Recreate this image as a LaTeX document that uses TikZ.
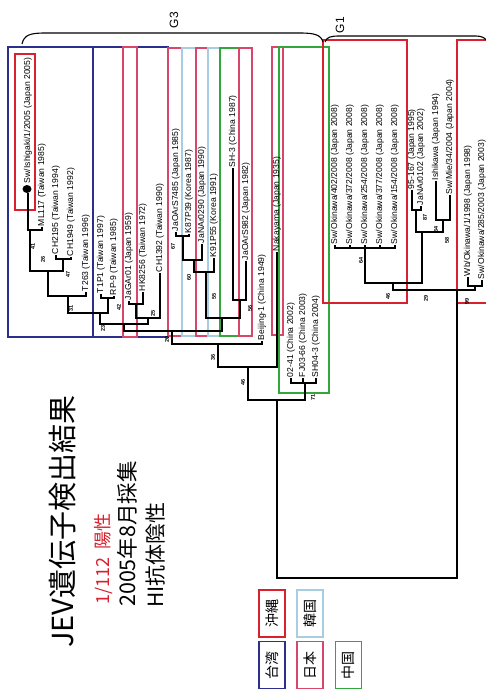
\documentclass[tikz,border=0pt]{standalone}
\usepackage{fontspec}
\usetikzlibrary{shapes.geometric}
\setmainfont{Liberation Sans}
\newfontfamily\cjk{Noto Sans CJK JP}
\definecolor{twblue}{HTML}{2B2E8C}
\definecolor{okred}{HTML}{D8202E}
\definecolor{jppink}{HTML}{D8466A}
\definecolor{krblue}{HTML}{A6CDE2}
\definecolor{cngreen}{HTML}{33A63C}
\begin{document}
\begin{tikzpicture}[x=1pt,y=-1pt,
  leaf/.style={rotate=90,anchor=west,inner sep=0.8pt,font=\fontsize{8.6}{9}\selectfont},
  bsv/.style={rotate=90,inner sep=0pt,font=\fontsize{5.5}{6}\selectfont\bfseries},
  br/.style={line width=1.3pt,black},
  bx/.style={line width=1.1pt},
  ttl/.style={rotate=90,anchor=west,inner sep=0pt},
  lg/.style={rotate=90,minimum width=47pt,minimum height=26pt,inner sep=0pt,line width=1.4pt,font=\cjk\fontsize{14}{14}\selectfont}]
\useasboundingbox (0,0) rectangle (486,691);
\fill[white] (0,0) rectangle (486,691);
% ---------- coloured boxes ----------
\draw[bx,twblue,line width=1.3pt] (8,47) rectangle (93,337);
\draw[bx,twblue,line width=1.3pt] (93,47) rectangle (168,337);
\draw[bx,jppink] (123,47) rectangle (137,337);
\draw[bx,jppink] (168,48) rectangle (182,336);
\draw[bx,krblue] (182,48) rectangle (196,336);
\draw[bx,jppink] (196,48) rectangle (208,336);
\draw[bx,krblue] (208,48) rectangle (220,336);
\draw[bx,cngreen] (220,48) rectangle (239,336);
\draw[bx,jppink] (239,48) rectangle (252,336);
\draw[bx,jppink] (272,47) rectangle (283,335);
\draw[bx,cngreen] (279,47) rectangle (329,393);
\draw[okred,line width=1.6pt] (323,40) rectangle (407,303);
\draw[okred,line width=1.6pt] (457,40) rectangle (495,303);
\draw[okred,line width=1.6pt] (15,54) rectangle (35,210);
% ---------- braces ----------
\draw[line width=1.1pt] (22,44) .. controls (24,35) and (30,33) .. (45,33) -- (300,33) .. controls (315,33) and (321,35) .. (323,42);
\draw[line width=1.1pt] (325,42) .. controls (327,37) and (330,36) .. (340,36) -- (476,36) .. controls (482,36) and (485,38) .. (487,41);
\node[rotate=90,font=\fontsize{12}{12}\selectfont] (G3) at (174,20) {G3};
\node[rotate=90,font=\fontsize{12}{12}\selectfont] (G1) at (340,25) {G1};
% ---------- leaves ----------
\coordinate (L1) at (28,193);
\coordinate (L2) at (42,227);
\coordinate (L3) at (56,255);
\coordinate (L4) at (71,257);
\coordinate (L5) at (86,292);
\coordinate (L6) at (101,294);
\coordinate (L7) at (114,296);
\coordinate (L8) at (129,301);
\coordinate (L9) at (143,292);
\coordinate (L10) at (160,273);
\coordinate (L11) at (176,232);
\coordinate (L12) at (189,234);
\coordinate (L13) at (202,244);
\coordinate (L14) at (214,258);
\coordinate (L15) at (233,168);
\coordinate (L16) at (246,261);
\coordinate (L17) at (262,341);
\coordinate (L18) at (277,252);
\coordinate (L19) at (291,378);
\coordinate (L20) at (303,378);
\coordinate (L21) at (316,378);
\coordinate (L22) at (335,245);
\coordinate (L23) at (350,245);
\coordinate (L24) at (365,245);
\coordinate (L25) at (380,245);
\coordinate (L26) at (395,245);
\coordinate (L27) at (412,190);
\coordinate (L28) at (421,206);
\coordinate (L29) at (436,181);
\coordinate (L30) at (450,195);
\coordinate (L31) at (468,277);
\coordinate (L32) at (482,280);
\node[ellipse,fill=black,inner sep=0pt,minimum width=9pt,minimum height=8pt] (dot) at (27,189) {};
\node[leaf] (t1) at (28,184) {Sw/Ishigaki/1/2005 (Japan 2005)};
\node[leaf] (t2) at (L2) {ML117 (Taiwan 1985)};
\node[leaf] (t3) at (L3) {CH2195 (Taiwan 1994)};
\node[leaf] (t4) at (L4) {CH1949 (Taiwan 1992)};
\node[leaf] (t5) at (L5) {T263 (Taiwan 1996)};
\node[leaf] (t6) at (L6) {T1P1 (Taiwan 1997)};
\node[leaf] (t7) at (L7) {RP-9 (Taiwan 1985)};
\node[leaf] (t8) at (L8) {JaGAr01 (Japan 1959)};
\node[leaf] (t9) at (L9) {HK8256 (Taiwan 1972)};
\node[leaf] (t10) at (L10) {CH1392 (Taiwan 1990)};
\node[leaf] (t11) at (L11) {JaOArS7485 (Japan 1985)};
\node[leaf] (t12) at (L12) {K87P39 (Korea 1987)};
\node[leaf] (t13) at (L13) {JaNAr0290 (Japan 1990)};
\node[leaf] (t14) at (L14) {K91P55 (Korea 1991)};
\node[leaf] (t15) at (L15) {SH-3 (China 1987)};
\node[leaf] (t16) at (L16) {JaOArS982 (Japan 1982)};
\node[leaf] (t17) at (L17) {Beijing-1 (China 1949)};
\node[leaf] (t18) at (L18) {Nakayama (Japan 1935)};
\node[leaf] (t19) at (L19) {02-41 (China 2002)};
\node[leaf] (t20) at (L20) {FJ03-66 (China 2003)};
\node[leaf] (t21) at (L21) {SH04-3 (China 2004)};
\node[leaf] (t22) at (L22) {Sw/Okinawa/402/2008 (Japan 2008)};
\node[leaf] (t23) at (L23) {Sw/Okinawa/372/2008 (Japan 2008)};
\node[leaf] (t24) at (L24) {Sw/Okinawa/254/2008 (Japan 2008)};
\node[leaf] (t25) at (L25) {Sw/Okinawa/377/2008 (Japan 2008)};
\node[leaf] (t26) at (L26) {Sw/Okinawa/154/2008 (Japan 2008)};
\node[leaf] (t27) at (L27) {95-167 (Japan 1995)};
\node[leaf] (t28) at (L28) {JaNAr0102 (Japan 2002)};
\node[leaf] (t29) at (L29) {Ishikawa (Japan 1994)};
\node[leaf] (t30) at (L30) {Sw/Mie/34/2004 (Japan 2004)};
\node[leaf] (t31) at (L31) {Wb/Okinawa/1/1998 (Japan 1998)};
\node[leaf] (t32) at (L32) {Sw/Okinawa/285/2003 (Japan 2003)};
% ---------- internal nodes ----------
\coordinate (a1) at (30,230);
\coordinate (a2) at (63,259);
\coordinate (a3) at (48,271);
\coordinate (a4) at (68,296);
\coordinate (b1) at (108,298);
\coordinate (c1) at (100,313);
\coordinate (b2) at (136,304);
\coordinate (b3) at (148,318);
\coordinate (c2) at (124,324);
\coordinate (j1) at (183,236);
\coordinate (j2) at (194,260);
\coordinate (j3) at (206,272);
\coordinate (j4) at (240,300);
\coordinate (j5) at (222,318);
\coordinate (d) at (172,331);
\coordinate (e) at (218,344);
\coordinate (f) at (248,367);
\coordinate (h) at (305,383);
\coordinate (g) at (277,400);
\coordinate (k1) at (365,248);
\coordinate (k4) at (416,210);
\coordinate (k2) at (443,220);
\coordinate (k3) at (422,232);
\coordinate (k5) at (393,283);
\coordinate (kW) at (475,286);
\coordinate (kB) at (457,290);
\coordinate (root) at (367,578);
% ---------- branches ----------
\draw[br] (a1) -| (L1) (a1) -| (L2);
\draw[br] (a2) -| (L3) (a2) -| (L4);
\draw[br] (a3) -| (a1) (a3) -| (a2);
\draw[br] (a4) -| (a3) (a4) -| (L5);
\draw[br] (b1) -| (L6) (b1) -| (L7);
\draw[br] (c1) -| (a4) (c1) -| (b1);
\draw[br] (b2) -| (L8) (b2) -| (L9);
\draw[br] (b3) -| (b2) (b3) -| (L10);
\draw[br] (c2) -| (c1) (c2) -| (b3);
\draw[br] (j1) -| (L11) (j1) -| (L12);
\draw[br] (j2) -| (j1) (j2) -| (L13);
\draw[br] (j3) -| (j2) (j3) -| (L14);
\draw[br] (j4) -| (L15) (j4) -| (L16);
\draw[br] (j5) -| (j3) (j5) -| (j4);
\draw[br] (d) -| (c2) (d) -| (j5);
\draw[br] (e) -| (d) (e) -| (L17);
\draw[br] (f) -| (e) (f) -| (L18);
\draw[br] (h) -| (L19) (h) -| (L20) (h) -| (L21);
\draw[br] (g) -| (f) (g) -| (h);
\draw[br] (k1) -| (L22) (k1) -| (L23) (k1) -| (L24) (k1) -| (L25) (k1) -| (L26);
\draw[br] (k4) -| (L27) (k4) -| (L28);
\draw[br] (k2) -| (L29) (k2) -| (L30);
\draw[br] (k3) -| (k4) (k3) -| (k2);
\draw[br] (k5) -| (k1) (k5) -| (k3);
\draw[br] (kW) -| (L31) (kW) -| (L32);
\draw[br] (kB) -| (k5) (kB) -| (kW);
\draw[br] (root) -| (g) (root) -| (kB);
% ---------- support values ----------
\node[bsv] (s41) at (33,246) {41};
\node[bsv] (s26) at (43,259) {26};
\node[bsv] (s47) at (68,274) {47};
\node[bsv] (s31) at (71,308) {31};
\node[bsv] (s42) at (119,307) {42};
\node[bsv] (s25) at (153,313) {25};
\node[bsv] (s23) at (103,328) {23};
\node[bsv] (s67) at (173,246) {67};
\node[bsv] (s60) at (189,277) {60};
\node[bsv] (s55) at (214,296) {55};
\node[bsv] (s56) at (250,308) {56};
\node[bsv] (s20) at (167,339) {20};
\node[bsv] (s36) at (213,357) {36};
\node[bsv] (s46a) at (243,382) {46};
\node[bsv] (s71) at (313,397) {71};
\node[bsv] (s64) at (361,260) {64};
\node[bsv] (s46b) at (388,296) {46};
\node[bsv] (s29) at (426,298) {29};
\node[bsv] (s99) at (467,301) {99};
\node[bsv] (s87) at (425,217) {87};
\node[bsv] (s34) at (436,229) {34};
\node[bsv] (s58) at (447,240) {58};
% ---------- titles ----------
\node[ttl,font=\cjk\fontsize{29}{29}\selectfont] (title) at (63,648) {JEV遺伝子検出結果};
\node[ttl,font=\cjk\fontsize{18}{18}\selectfont,text=okred] (pos) at (103.5,605) {1/112\ \ 陽性};
\node[ttl,font=\cjk\fontsize{21.5}{21.5}\selectfont] (date) at (127.5,607) {2005年8月採集};
\node[ttl,font=\cjk\fontsize{21}{21}\selectfont] (hi) at (156,608) {HI抗体陰性};
% ---------- legend ----------
\node[lg,draw=okred] (lgok) at (272,613.5) {沖縄};
\node[lg,draw=twblue] (lgtw) at (272,665) {台湾};
\node[lg,draw=krblue] (lgkr) at (310,613.5) {韓国};
\node[lg,draw=jppink] (lgjp) at (310,665) {日本};
\node[lg,draw=cngreen] (lgcn) at (348.5,665) {中国};
\end{tikzpicture}
\end{document}
